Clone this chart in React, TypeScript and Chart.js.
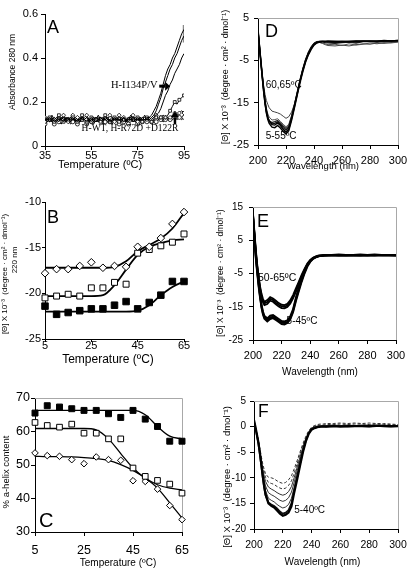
import React, { useEffect, useRef } from "react";
import { Chart, registerables } from "chart.js";

Chart.register(...registerables);

const SANS = '"Liberation Sans", Arial, Helvetica, sans-serif';
const SERIF = '"Liberation Serif", "Times New Roman", serif';
const CD_TITLE = "[Θ] X 10⁻³  (degree · cm² · dmol⁻¹)";

// ---------- Panel A: absorbance at 280 nm vs temperature ----------
const TEMP_A = [35,36,37,38,39,40,41,42,43,44,45,46,47,48,49,50,51,52,53,54,55,56,57,58,59,60,61,62,63,64,65,66,67,68,69,70,71,72,73,74,75,76,77,78,79,80,81,82,83,84,85,86,87,88,89,90,91,92,93,94,95];
const A_I134_1 = [0.12,0.13,0.11,0.12,0.13,0.12,0.11,0.13,0.12,0.12,0.13,0.11,0.12,0.13,0.12,0.11,0.13,0.12,0.13,0.12,0.11,0.12,0.13,0.12,0.12,0.13,0.12,0.11,0.12,0.13,0.12,0.12,0.13,0.12,0.11,0.12,0.13,0.12,0.12,0.13,0.12,0.12,0.13,0.12,0.13,0.13,0.14,0.16,0.18,0.21,0.24,0.28,0.32,0.35,0.37,0.40,0.42,0.45,0.48,0.51,0.53];
const A_I134_2 = [0.13,0.12,0.12,0.13,0.11,0.12,0.13,0.12,0.13,0.11,0.12,0.13,0.12,0.12,0.11,0.13,0.12,0.12,0.13,0.11,0.12,0.13,0.12,0.11,0.13,0.12,0.13,0.12,0.12,0.11,0.13,0.12,0.12,0.11,0.13,0.12,0.12,0.13,0.11,0.12,0.13,0.12,0.12,0.13,0.12,0.12,0.13,0.14,0.16,0.19,0.22,0.26,0.29,0.32,0.35,0.37,0.40,0.42,0.45,0.48,0.50];
const A_I134_3 = [0.12,0.12,0.13,0.11,0.12,0.13,0.12,0.12,0.11,0.13,0.12,0.12,0.13,0.11,0.12,0.12,0.13,0.12,0.11,0.12,0.13,0.12,0.11,0.12,0.13,0.12,0.12,0.13,0.11,0.12,0.12,0.13,0.12,0.12,0.13,0.11,0.12,0.12,0.13,0.12,0.12,0.13,0.12,0.12,0.12,0.13,0.12,0.13,0.14,0.15,0.17,0.20,0.23,0.25,0.28,0.30,0.33,0.35,0.37,0.40,0.42];
const A_WT_1 = [0.11,0.12,0.13,0.12,0.11,0.12,0.14,0.12,0.11,0.13,0.12,0.11,0.13,0.12,0.11,0.12,0.14,0.12,0.11,0.12,0.13,0.11,0.12,0.13,0.11,0.12,0.14,0.12,0.11,0.12,0.13,0.12,0.11,0.13,0.12,0.11,0.12,0.14,0.12,0.11,0.13,0.12,0.11,0.12,0.13,0.12,0.11,0.12,0.13,0.12,0.13,0.12,0.13,0.14,0.16,0.18,0.20,0.19,0.21,0.22,0.23];
const A_WT_2 = [0.13,0.11,0.12,0.14,0.12,0.11,0.13,0.12,0.14,0.12,0.11,0.13,0.14,0.12,0.13,0.11,0.12,0.13,0.14,0.12,0.11,0.13,0.12,0.14,0.12,0.11,0.13,0.12,0.14,0.13,0.11,0.12,0.14,0.12,0.13,0.11,0.12,0.13,0.14,0.12,0.11,0.13,0.12,0.14,0.12,0.13,0.12,0.13,0.14,0.12,0.13,0.14,0.13,0.12,0.13,0.14,0.15,0.14,0.15,0.16,0.15];
const A_WT_3 = [0.10,0.11,0.12,0.11,0.10,0.12,0.11,0.10,0.12,0.11,0.12,0.10,0.11,0.12,0.10,0.11,0.12,0.11,0.10,0.12,0.11,0.10,0.12,0.11,0.12,0.10,0.11,0.12,0.11,0.10,0.12,0.11,0.10,0.12,0.11,0.12,0.10,0.11,0.12,0.11,0.10,0.12,0.11,0.12,0.11,0.12,0.11,0.12,0.11,0.12,0.12,0.11,0.12,0.13,0.12,0.12,0.13,0.12,0.13,0.12,0.13];
const A_END_T = [95, 95];
const A_END_BAR = [0.47, 0.55];

// ---------- Panels B & C: 220 nm ellipticity and helix content ----------
const TEMP_BC = [5,10,15,20,25,30,35,40,45,50,55,60,65];
const B_DIAMOND = [-17.8,-17.35,-17.35,-17.0,-16.6,-17.2,-17.0,-17.1,-14.9,-14.9,-13.95,-12.4,-11.1];
const B_OPEN_SQ = [-20.5,-20.3,-20.1,-20.3,-19.4,-19.4,-18.8,-19.0,-15.6,-15.2,-14.8,-14.4,-13.5];
const B_FILLED_SQ = [-21.4,-22.3,-22.1,-21.9,-21.7,-21.7,-21.3,-20.9,-21.7,-21.0,-20.2,-18.7,-18.7];
const B_FIT_DIAMOND = [-17.2,-17.2,-17.2,-17.2,-17.2,-17.2,-17.1,-16.5,-15.4,-14.7,-14.0,-12.9,-11.2];
const B_FIT_OPEN = [-20.3,-20.3,-20.3,-20.3,-20.3,-20.2,-19.1,-17.4,-15.8,-14.9,-14.5,-14.2,-14.1];
const B_FIT_FILLED = [-22.0,-22.0,-22.0,-22.0,-22.0,-22.0,-22.0,-22.0,-21.9,-21.3,-20.2,-19.3,-18.7];

const C_FILLED_SQ = [65.5,67.7,67.3,66.8,66.3,66.3,65.3,64.2,66.3,63.7,61.5,57.1,57.1];
const C_OPEN_SQ = [62.7,61.8,61.3,62.2,59.5,59.5,57.8,57.8,49.1,46.6,45.4,44.3,41.6];
const C_DIAMOND = [53.6,52.8,52.6,51.6,50.4,52.4,51.6,51.4,45.3,45.1,42.8,37.9,33.7];
const C_FIT_FILLED = [66.3,66.3,66.3,66.3,66.3,66.3,66.3,66.3,66.3,65.0,61.5,58.6,57.8];
const C_FIT_OPEN = [60.9,60.9,60.9,60.9,60.9,60.5,57.8,53.4,49.1,46.1,44.1,43.1,42.6];
const C_FIT_DIAMOND = [52.6,52.5,52.5,52.4,52.2,51.9,51.4,50.1,48.4,46.1,43.1,38.7,34.2];

// ---------- Panels D, E, F: CD spectra ----------
const WL = [200,201,202,203,204,205,206,207,208,210,212,214,216,218,220,222,224,226,228,230,232,234,236,238,240,242,244,246,248,250,255,260,265,270,275,280,285,290,295,300];

const D_5C = [2.5,-1.2,-4.8,-8.3,-11.5,-14.5,-16.8,-18.4,-19.3,-20.2,-20.3,-19.8,-20.4,-21.3,-22.0,-21.2,-18.8,-16.0,-13.0,-10.0,-7.4,-5.2,-3.5,-2.2,-1.3,-0.8,-0.6,-0.5,-0.5,-0.5,-0.5,-0.6,-0.5,-0.5,-0.4,-0.5,-0.4,-0.4,-0.4,-0.3];
const D_25C = [2.2,-1.6,-5.3,-8.9,-12.2,-15.2,-17.5,-19.0,-19.9,-20.8,-20.9,-20.4,-21.0,-21.8,-22.4,-21.6,-19.2,-16.3,-13.3,-10.3,-7.7,-5.4,-3.7,-2.4,-1.4,-0.9,-0.7,-0.6,-0.6,-0.5,-0.6,-0.5,-0.6,-0.4,-0.5,-0.4,-0.5,-0.3,-0.4,-0.3];
const D_45C = [2.0,-1.4,-5.0,-8.5,-11.8,-14.8,-17.0,-18.5,-19.4,-20.0,-19.9,-19.5,-20.1,-20.9,-21.5,-20.8,-18.5,-15.7,-12.8,-9.8,-7.2,-5.0,-3.3,-2.0,-1.1,-0.7,-0.5,-0.5,-0.6,-0.7,-0.8,-0.7,-0.6,-0.7,-0.5,-0.5,-0.6,-0.4,-0.4,-0.4];
const D_55C = [2.0,-1.8,-5.5,-9.0,-12.4,-15.3,-17.3,-18.6,-19.3,-19.7,-19.5,-19.2,-19.8,-20.5,-21.1,-20.5,-18.3,-15.5,-12.6,-9.6,-7.0,-4.8,-3.1,-1.9,-1.0,-0.6,-0.5,-0.6,-0.8,-0.9,-1.0,-0.8,-0.7,-0.9,-0.6,-0.6,-0.7,-0.5,-0.5,-0.4];
const D_60C = [2.0,-1.6,-5.0,-8.2,-11.0,-13.0,-14.5,-15.4,-16.2,-17.0,-17.2,-17.4,-17.7,-18.2,-18.7,-18.3,-17.2,-15.4,-12.8,-9.9,-7.2,-5.0,-3.2,-1.9,-1.0,-0.7,-0.8,-1.0,-1.3,-1.5,-1.6,-1.4,-1.6,-1.3,-1.1,-1.2,-0.9,-1.0,-0.8,-0.6];
const D_65C = [2.1,-1.5,-5.1,-8.6,-11.8,-14.4,-16.3,-17.6,-18.4,-19.1,-19.0,-18.8,-19.4,-20.1,-20.7,-20.1,-18.0,-15.4,-12.6,-9.7,-7.0,-4.8,-3.1,-1.8,-0.9,-0.6,-0.7,-0.9,-1.1,-1.3,-1.2,-1.5,-1.1,-1.4,-1.2,-0.9,-1.1,-0.8,-0.9,-0.7];

const E_5C = [12.0,6.0,0.0,-4.5,-8.5,-12.0,-15.0,-17.0,-18.3,-19.0,-18.2,-18.0,-18.6,-19.2,-19.8,-19.9,-19.6,-18.5,-16.2,-12.8,-9.8,-7.0,-4.6,-2.6,-1.3,-0.5,0.0,0.3,0.4,0.5,0.5,0.6,0.5,0.4,0.5,0.6,0.5,0.5,0.6,0.5];
const E_25C = [11.5,5.5,-0.5,-5.0,-9.0,-12.4,-15.3,-17.3,-18.6,-19.4,-18.7,-18.4,-19.0,-19.6,-20.2,-20.3,-19.9,-18.8,-16.6,-13.3,-10.3,-7.5,-5.0,-2.9,-1.5,-0.6,-0.1,0.2,0.3,0.4,0.4,0.5,0.4,0.5,0.4,0.5,0.6,0.4,0.5,0.4];
const E_45C = [12.5,6.5,0.5,-4.0,-8.0,-11.5,-14.5,-16.5,-17.8,-18.5,-17.7,-17.5,-18.1,-18.7,-19.3,-19.4,-19.1,-18.0,-15.8,-12.3,-9.4,-6.6,-4.3,-2.4,-1.1,-0.3,0.1,0.4,0.5,0.6,0.6,0.7,0.6,0.6,0.7,0.6,0.7,0.6,0.6,0.6];
const E_50C = [12.5,7.0,1.5,-3.0,-6.5,-9.5,-11.8,-13.2,-14.0,-13.6,-12.6,-13.0,-13.8,-14.4,-14.9,-15.0,-14.6,-13.6,-12.0,-10.0,-7.9,-5.8,-3.9,-2.2,-1.1,-0.4,0.0,0.2,0.3,0.4,0.5,0.5,0.4,0.5,0.5,0.4,0.5,0.5,0.5,0.5];
const E_55C = [12.0,6.5,1.0,-3.4,-7.0,-10.0,-12.3,-13.7,-14.5,-14.2,-13.2,-13.5,-14.3,-14.9,-15.4,-15.5,-15.1,-14.1,-12.5,-10.5,-8.3,-6.2,-4.2,-2.4,-1.2,-0.5,-0.1,0.2,0.3,0.4,0.5,0.4,0.5,0.5,0.4,0.5,0.4,0.5,0.5,0.4];
const E_65C = [13.0,7.5,2.0,-2.5,-6.0,-9.0,-11.2,-12.7,-13.5,-13.0,-12.1,-12.5,-13.2,-13.9,-14.4,-14.5,-14.1,-13.1,-11.5,-9.5,-7.5,-5.4,-3.6,-2.0,-0.9,-0.3,0.1,0.3,0.4,0.5,0.6,0.6,0.5,0.6,0.6,0.5,0.6,0.6,0.5,0.5];

const F_5C = [1.3,0.0,-1.5,-3.0,-5.0,-7.2,-9.5,-11.5,-13.2,-15.0,-15.5,-15.8,-16.4,-17.0,-17.4,-17.2,-16.8,-15.6,-12.8,-10.3,-7.6,-5.0,-2.9,-1.4,-0.6,-0.3,-0.1,0.0,0.0,0.0,0.1,0.0,0.1,0.1,0.1,0.1,0.2,0.1,0.1,0.1];
const F_40C = [1.0,-0.3,-1.8,-3.3,-5.3,-7.5,-9.8,-11.8,-13.4,-14.8,-15.2,-15.5,-16.0,-16.6,-17.0,-16.8,-16.3,-15.0,-12.3,-9.8,-7.2,-4.7,-2.7,-1.3,-0.5,-0.2,-0.1,0.0,0.1,0.0,0.1,0.1,0.0,0.1,0.1,0.0,0.1,0.1,0.0,0.1];
const F_45C = [1.2,-0.1,-1.6,-3.0,-4.9,-7.0,-9.2,-11.0,-12.5,-14.0,-14.4,-14.7,-15.2,-15.6,-15.9,-15.7,-15.2,-14.0,-11.8,-9.4,-7.0,-4.6,-2.7,-1.3,-0.5,-0.2,-0.1,0.0,0.1,0.1,0.1,0.1,0.1,0.1,0.2,0.1,0.2,0.1,0.2,0.1];
const F_50C = [1.1,-0.1,-1.5,-2.9,-4.7,-6.7,-8.7,-10.3,-11.6,-12.9,-13.3,-13.6,-14.0,-14.4,-14.6,-14.4,-13.9,-12.8,-10.8,-8.6,-6.4,-4.3,-2.5,-1.2,-0.4,-0.1,0.0,0.1,0.1,0.1,0.2,0.2,0.1,0.2,0.2,0.2,0.1,0.2,0.2,0.1];
const F_55C = [1.0,-0.2,-1.5,-2.8,-4.5,-6.4,-8.2,-9.6,-10.7,-11.8,-12.2,-12.5,-12.9,-13.2,-13.4,-13.2,-12.7,-11.7,-9.9,-7.9,-5.9,-4.0,-2.4,-1.1,-0.3,0.0,0.1,0.1,0.2,0.2,0.3,0.2,0.3,0.2,0.3,0.3,0.2,0.3,0.2,0.2];
const F_60C = [1.0,-0.2,-1.4,-2.7,-4.3,-6.0,-7.7,-8.9,-9.9,-10.9,-11.1,-11.3,-11.7,-12.0,-12.2,-12.0,-11.5,-10.6,-9.0,-7.2,-5.3,-3.6,-2.1,-0.9,-0.2,0.1,0.2,0.3,0.3,0.4,0.4,0.5,0.4,0.5,0.5,0.4,0.5,0.4,0.4,0.3];
const F_65C = [0.9,-0.3,-1.4,-2.6,-4.1,-5.7,-7.2,-8.3,-9.2,-9.9,-10.0,-10.2,-10.6,-10.9,-11.1,-10.9,-10.4,-9.6,-8.2,-6.6,-4.9,-3.3,-1.9,-0.8,-0.1,0.2,0.4,0.5,0.5,0.6,0.6,0.7,0.6,0.7,0.6,0.7,0.6,0.6,0.5,0.4];

// ---------- helpers ----------
const pts = (xs: number[], ys: number[]) => xs.map((x, i) => ({ x, y: ys[i] }));

const decoPlugin = {
  id: "deco",
  beforeDatasetsDraw(chart: any, _a: any, o: any) {
    if (!o || !o.frame) return;
    const { ctx, chartArea: ca } = chart;
    ctx.save();
    ctx.strokeStyle = o.frame;
    ctx.lineWidth = 1;
    ctx.beginPath();
    ctx.moveTo(Math.round(ca.left), Math.round(ca.top) + 0.5);
    ctx.lineTo(Math.round(ca.right) + 0.5, Math.round(ca.top) + 0.5);
    ctx.lineTo(Math.round(ca.right) + 0.5, Math.round(ca.bottom));
    ctx.stroke();
    ctx.restore();
  },
  afterDraw(chart: any, _a: any, o: any) {
    if (!o) return;
    const { ctx, scales } = chart;
    const xs = scales.x;
    const ys = scales.y;
    ctx.save();
    ctx.fillStyle = "#000";
    ctx.strokeStyle = "#000";
    (o.notes || []).forEach((n: any) => {
      ctx.font = n.font;
      ctx.textAlign = "left";
      ctx.textBaseline = "middle";
      ctx.fillText(n.text, xs.getPixelForValue(n.x), ys.getPixelForValue(n.y));
    });
    (o.arrows || []).forEach((a: any) => {
      const x1 = xs.getPixelForValue(a.x1);
      const y1 = ys.getPixelForValue(a.y1);
      const x2 = xs.getPixelForValue(a.x2);
      const y2 = ys.getPixelForValue(a.y2);
      const ang = Math.atan2(y2 - y1, x2 - x1);
      const hl = a.head;
      const hw = a.headW;
      const bx = x2 - hl * Math.cos(ang);
      const by = y2 - hl * Math.sin(ang);
      ctx.lineWidth = a.w;
      ctx.beginPath();
      ctx.moveTo(x1, y1);
      ctx.lineTo(bx, by);
      ctx.stroke();
      ctx.beginPath();
      ctx.moveTo(x2, y2);
      ctx.lineTo(bx + hw * Math.sin(ang), by - hw * Math.cos(ang));
      ctx.lineTo(bx - hw * Math.sin(ang), by + hw * Math.cos(ang));
      ctx.closePath();
      ctx.fill();
    });
    (o.texts || []).forEach((t: any) => {
      ctx.save();
      ctx.translate(t.x, t.y);
      if (t.rot) ctx.rotate(t.rot);
      ctx.font = t.font;
      ctx.textAlign = t.align || "center";
      ctx.textBaseline = t.baseline || "middle";
      ctx.fillText(t.text, 0, 0);
      ctx.restore();
    });
    ctx.restore();
  },
};

interface Box { left: number; top: number; width: number; height: number; l: number; t: number; r: number; b: number; }

function axis(min: number, max: number, step: number, size: number, pad: number, tl: number, fit: (s: any) => void) {
  return {
    type: "linear",
    min,
    max,
    ticks: { stepSize: step, autoSkip: false, maxRotation: 0, color: "#000", padding: pad, font: { family: SANS, size } },
    grid: { drawOnChartArea: false, drawTicks: true, tickLength: tl, tickColor: "#000", color: "#000", lineWidth: 1 },
    border: { display: true, color: "#000", width: 1 },
    title: { display: false },
    afterFit: fit,
  };
}

function makeConfig(box: Box, datasets: any[], xa: any[], ya: any[], deco: any) {
  const fitX = (s: any) => { s.height = box.height - box.b; s.paddingLeft = 0; s.paddingRight = 0; };
  const fitY = (s: any) => { s.width = box.l; s.paddingTop = 0; s.paddingBottom = 0; };
  return {
    type: "line",
    data: { datasets },
    plugins: [decoPlugin],
    options: {
      responsive: false,
      animation: false,
      events: [],
      layout: { padding: { left: 0, top: box.t, right: box.width - box.r, bottom: 0 } },
      plugins: { legend: { display: false }, tooltip: { enabled: false }, deco },
      scales: {
        x: axis(xa[0], xa[1], xa[2], xa[3], xa[4], xa[5], fitX),
        y: axis(ya[0], ya[1], ya[2], ya[3], ya[4], ya[5], fitY),
      },
    },
  };
}

const lineDs = (xs: number[], ys: number[], color: string, width: number, dash: number[] = []) => ({
  data: pts(xs, ys), borderColor: color, borderWidth: width, borderDash: dash, pointRadius: 0, fill: false, tension: 0,
});
const fitDs = (ys: number[], width: number) => ({
  data: pts(TEMP_BC, ys), borderColor: "#000", borderWidth: width, pointRadius: 0, fill: false, cubicInterpolationMode: "monotone",
});
const markDs = (ys: number[], style: string, filled: boolean, r: number) => ({
  data: pts(TEMP_BC, ys), showLine: false, pointStyle: style, pointRadius: r, pointBorderWidth: 1,
  pointBackgroundColor: filled ? "#000" : "#fff", pointBorderColor: "#000", clip: false,
});
const wtDs = (ys: number[], style: string) => ({
  data: pts(TEMP_A, ys), borderColor: "#000", borderWidth: 1, pointStyle: style,
  pointRadius: (c: any) => (c.dataIndex % 2 === 0 ? 2 : 0), pointBorderWidth: 0.8,
  pointBackgroundColor: "#fff", pointBorderColor: "#000", fill: false, tension: 0,
});

// ---------- panel definitions ----------
const BOX_A: Box = { left: 0, top: 0, width: 205, height: 190, l: 45, t: 14, r: 184, b: 146 };
const BOX_B: Box = { left: 0, top: 190, width: 205, height: 190, l: 45, t: 12, r: 184, b: 149 };
const BOX_C: Box = { left: 0, top: 380, width: 205, height: 190, l: 35, t: 18, r: 182, b: 152 };
const BOX_D: Box = { left: 205, top: 0, width: 204, height: 190, l: 53, t: 18, r: 193, b: 145 };
const BOX_E: Box = { left: 205, top: 190, width: 204, height: 190, l: 48, t: 17, r: 191, b: 150 };
const BOX_F: Box = { left: 205, top: 380, width: 204, height: 190, l: 49, t: 21, r: 193, b: 149 };

const letter = (text: string, x: number, y: number, size: number) => ({ text, x, y, font: `${size}px ${SANS}`, align: "left", baseline: "alphabetic" });
const yTitle = (text: string, x: number, y: number, size: number) => ({ text, x, y, rot: -Math.PI / 2, font: `${size}px ${SANS}` });
const xTitle = (text: string, x: number, y: number, size: number) => ({ text, x, y, font: `${size}px ${SANS}` });

const PANELS = [
  {
    box: BOX_A,
    config: makeConfig(
      BOX_A,
      [
        lineDs(TEMP_A, A_I134_1, "#000", 1),
        lineDs(TEMP_A, A_I134_2, "#000", 1),
        lineDs(TEMP_A, A_I134_3, "#000", 1),
        wtDs(A_WT_1, "rect"),
        wtDs(A_WT_2, "rectRot"),
        wtDs(A_WT_3, "circle"),
        lineDs(A_END_T, A_END_BAR, "#8a8a8a", 2.5),
      ],
      [35, 95, 20, 11, -1, 4],
      [0, 0.6, 0.2, 11, 3, 4],
      {
        notes: [
          { text: "H-I134P/V", x: 63.5, y: 0.277, font: `10.5px ${SERIF}` },
          { text: "H-WT, H-R72D +D122R", x: 50.8, y: 0.08, font: `9.5px ${SERIF}` },
        ],
        arrows: [
          { x1: 84.3, y1: 0.272, x2: 89, y2: 0.272, head: 5, headW: 4.5, w: 3 },
          { x1: 91.1, y1: 0.1, x2: 91.1, y2: 0.158, head: 6, headW: 4, w: 2.5 },
        ],
        texts: [
          letter("A", 47, 33, 18),
          yTitle("Absorbance 280 nm", 13, 72, 8.5),
          xTitle("Temperature (ºC)", 100, 165, 11),
        ],
      }
    ),
  },
  {
    box: BOX_B,
    config: makeConfig(
      BOX_B,
      [
        markDs(B_DIAMOND, "rectRot", false, 3.8),
        markDs(B_OPEN_SQ, "rect", false, 4.2),
        markDs(B_FILLED_SQ, "rect", true, 4.6),
        fitDs(B_FIT_DIAMOND, 1.8),
        fitDs(B_FIT_OPEN, 1.8),
        fitDs(B_FIT_FILLED, 1.8),
      ],
      [5, 65, 20, 11, -3, 3],
      [-25, -10, 5, 11, 1, 3],
      {
        texts: [
          letter("B", 47, 33, 18),
          yTitle(CD_TITLE, 5, 84, 8),
          yTitle("220 nm", 15, 70, 8),
          xTitle("Temperature (ºC)", 108, 170, 12),
        ],
      }
    ),
  },
  {
    box: BOX_C,
    config: makeConfig(
      BOX_C,
      [
        markDs(C_FILLED_SQ, "rect", true, 4.2),
        markDs(C_OPEN_SQ, "rect", false, 4),
        markDs(C_DIAMOND, "rectRot", false, 3.3),
        fitDs(C_FIT_FILLED, 1.3),
        fitDs(C_FIT_OPEN, 1.3),
        fitDs(C_FIT_DIAMOND, 1.3),
      ],
      [5, 65, 20, 12.5, 7, 4],
      [30, 70, 10, 12.5, 1, 4],
      {
        frame: "#a8a8a8",
        texts: [
          letter("C", 39, 147, 20),
          yTitle("% a-helix content", 6, 92, 9.5),
          xTitle("Temperature (ºC)", 118, 183, 10),
        ],
      }
    ),
  },
  {
    box: BOX_D,
    config: makeConfig(
      BOX_D,
      [
        lineDs(WL, D_5C, "#000", 1.4),
        lineDs(WL, D_25C, "#000", 1.4),
        lineDs(WL, D_45C, "#111", 1.3),
        lineDs(WL, D_55C, "#222", 1.3),
        lineDs(WL, D_60C, "#444", 1),
        lineDs(WL, D_65C, "#555", 1),
      ],
      [200, 300, 20, 11, 5.5, 4],
      [-25, 5, 10, 11, 5, 4],
      {
        frame: "#a8a8a8",
        notes: [
          { text: "60,65ºC", x: 205.5, y: -10.9, font: `10px ${SANS}` },
          { text: "5-55ºC", x: 205.5, y: -23.0, font: `10px ${SANS}` },
        ],
        texts: [
          letter("D", 60, 37, 18),
          yTitle(CD_TITLE, 21, 77, 9),
          xTitle("Wavelength (nm)", 118, 166.5, 9.5),
        ],
      }
    ),
  },
  {
    box: BOX_E,
    config: makeConfig(
      BOX_E,
      [
        lineDs(WL, E_5C, "#000", 2),
        lineDs(WL, E_25C, "#000", 2),
        lineDs(WL, E_45C, "#000", 2),
        lineDs(WL, E_50C, "#000", 1.8),
        lineDs(WL, E_55C, "#000", 1.8),
        lineDs(WL, E_65C, "#000", 1.8),
      ],
      [200, 300, 20, 11, 5, 4],
      [-25, 15, 10, 10, 6, 4],
      {
        frame: "#a8a8a8",
        notes: [
          { text: "50-65ºC", x: 203.5, y: -6.5, font: `10.5px ${SANS}` },
          { text: "5-45ºC", x: 223.5, y: -19.3, font: `10px ${SANS}` },
        ],
        texts: [
          letter("E", 52, 37, 18),
          yTitle(CD_TITLE, 16, 83, 8.5),
          xTitle("Wavelength (nm)", 115, 182, 10),
        ],
      }
    ),
  },
  {
    box: BOX_F,
    config: makeConfig(
      BOX_F,
      [
        lineDs(WL, F_5C, "#000", 2.2),
        lineDs(WL, F_40C, "#111", 1.8),
        lineDs(WL, F_45C, "#333", 1),
        lineDs(WL, F_50C, "#333", 1),
        lineDs(WL, F_55C, "#333", 1),
        lineDs(WL, F_60C, "#333", 1, [3, 2]),
        lineDs(WL, F_65C, "#333", 1, [3, 2]),
      ],
      [200, 300, 20, 10.5, 6, 4],
      [-20, 5, 5, 10, 4, 4],
      {
        frame: "#a8a8a8",
        notes: [{ text: "5-40ºC", x: 227.9, y: -16.4, font: `10px ${SANS}` }],
        texts: [
          letter("F", 53, 37, 17.5),
          yTitle(CD_TITLE, 22, 97, 9.5),
          xTitle("Wavelength (nm)", 117.5, 182, 10),
        ],
      }
    ),
  },
];

function Panel({ box, config }: { box: Box; config: any }) {
  const ref = useRef<HTMLCanvasElement>(null);
  useEffect(() => {
    const chart = new Chart(ref.current as HTMLCanvasElement, config);
    return () => chart.destroy();
  }, []);
  return (
    <canvas
      ref={ref}
      width={box.width}
      height={box.height}
      style={{ position: "absolute", left: box.left, top: box.top, width: box.width, height: box.height }}
    />
  );
}

export default function App() {
  return (
    <div style={{ position: "absolute", left: 0, top: 0, width: 409, height: 570, background: "#fff", overflow: "hidden" }}>
      {PANELS.map((p, i) => (
        <Panel key={i} box={p.box} config={p.config} />
      ))}
    </div>
  );
}
